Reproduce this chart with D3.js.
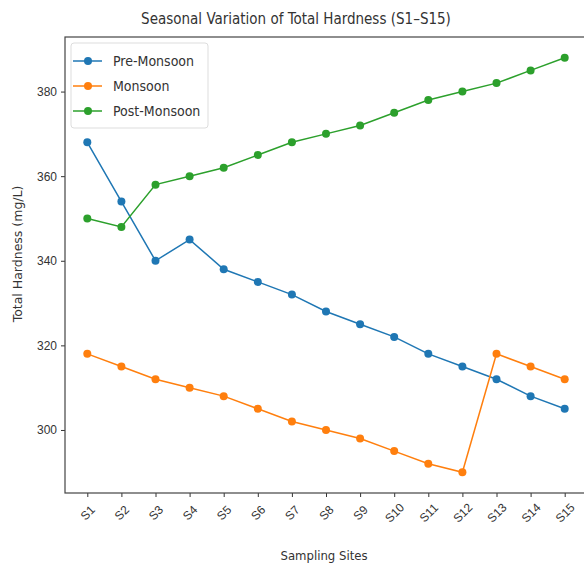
<!DOCTYPE html>
<html>
<head>
<meta charset="utf-8">
<script src="https://cdn.jsdelivr.net/npm/d3@7"></script>
<style>
  body { margin: 0; background: #fff; }
  svg { font-family: "DejaVu Sans Condensed", "DejaVu Sans", sans-serif; font-stretch: condensed; }
</style>
</head>
<body>
<div id="chart"></div>
<script>
let sites = ['S1', 'S2', 'S3', 'S4', 'S5', 'S6', 'S7', 'S8', 'S9', 'S10', 'S11', 'S12', 'S13', 'S14', 'S15'];
let preMonsoon = [368, 354, 340, 345, 338, 335, 332, 328, 325, 322, 318, 315, 312, 308, 305];
let monsoon = [318, 315, 312, 310, 308, 305, 302, 300, 298, 295, 292, 290, 318, 315, 312];
let postMonsoon = [350, 348, 358, 360, 362, 365, 368, 370, 372, 375, 378, 380, 382, 385, 388];
let seriesNames = ['Pre-Monsoon', 'Monsoon', 'Post-Monsoon'];
let yTicks = [300, 320, 340, 360, 380];

let width = 584;
let height = 567;
let plotLeft = 65, plotRight = 587, plotTop = 37, plotBottom = 493;
let colors = ['#1f77b4', '#ff7f0e', '#2ca02c'];

let svg = d3.select('#chart')
    .append('svg')
    .attr('width', width)
    .attr('height', height);

// matplotlib style 5% margins
let x = d3.scalePoint()
    .domain(sites)
    .range([plotLeft + 22.3, plotRight - 22.3]);

let allVals = preMonsoon.concat(monsoon, postMonsoon);
let yMin = d3.min(allVals), yMax = d3.max(allVals);
let pad = (yMax - yMin) * 0.05;
let y = d3.scaleLinear()
    .domain([yMin - pad, yMax + pad])
    .range([plotBottom, plotTop]);

// y axis
let yAxis = svg.append('g')
    .attr('transform', `translate(${plotLeft},0)`)
    .call(d3.axisLeft(y).tickValues(yTicks).tickSize(4).tickPadding(4));
yAxis.select('.domain').remove();
yAxis.selectAll('text').style('font-size', '12px').attr('fill', '#333');
yAxis.selectAll('line').attr('stroke', '#333');

// x axis
let xAxis = svg.append('g')
    .attr('transform', `translate(0,${plotBottom})`)
    .call(d3.axisBottom(x).tickSize(4).tickPadding(0));
xAxis.select('.domain').remove();
xAxis.selectAll('line').attr('stroke', '#333');
xAxis.selectAll('text')
    .style('font-size', '12px')
    .attr('fill', '#333')
    .attr('dy', null)
    .attr('y', 0)
    .attr('text-anchor', 'middle')
    .attr('dominant-baseline', 'central')
    .attr('transform', 'translate(0,20) rotate(-45)');

// frame
svg.append('rect')
    .attr('x', plotLeft)
    .attr('y', plotTop)
    .attr('width', plotRight - plotLeft)
    .attr('height', plotBottom - plotTop)
    .attr('fill', 'none')
    .attr('stroke', '#444')
    .attr('stroke-width', 1.2);

let line = d3.line()
    .x((d, i) => x(sites[i]))
    .y(d => y(d));

[preMonsoon, monsoon, postMonsoon].forEach((vals, k) => {
    svg.append('path')
        .datum(vals)
        .attr('d', line)
        .attr('fill', 'none')
        .attr('stroke', colors[k])
        .attr('stroke-width', 1.5);
    svg.append('g')
        .selectAll('circle')
        .data(vals)
        .enter()
        .append('circle')
        .attr('cx', (d, i) => x(sites[i]))
        .attr('cy', d => y(d))
        .attr('r', 4)
        .attr('fill', colors[k]);
});

// legend
let legend = svg.append('g').attr('transform', `translate(${plotLeft + 6},${plotTop + 6})`);
legend.append('rect')
    .attr('width', 137)
    .attr('height', 85)
    .attr('rx', 3)
    .attr('fill', 'white')
    .attr('fill-opacity', 0.8)
    .attr('stroke', '#ddd');
seriesNames.forEach((name, k) => {
    let gy = 18 + k * 25;
    legend.append('line')
        .attr('x1', 2).attr('x2', 31)
        .attr('y1', gy).attr('y2', gy)
        .attr('stroke', colors[k])
        .attr('stroke-width', 1.5);
    legend.append('circle')
        .attr('cx', 17).attr('cy', gy).attr('r', 4)
        .attr('fill', colors[k]);
    legend.append('text')
        .attr('x', 42).attr('y', gy)
        .attr('dominant-baseline', 'central')
        .style('font-size', '14px')
        .attr('fill', '#333')
        .text(name);
});

// title and labels
svg.append('text')
    .attr('x', 296)
    .attr('y', 19)
    .attr('text-anchor', 'middle')
    .attr('dominant-baseline', 'central')
    .style('font-size', '15px')
    .attr('fill', '#333')
    .text('Seasonal Variation of Total Hardness (S1–S15)');

svg.append('text')
    .attr('x', 324)
    .attr('y', 555)
    .attr('text-anchor', 'middle')
    .attr('dominant-baseline', 'central')
    .style('font-size', '13px')
    .attr('fill', '#333')
    .text('Sampling Sites');

svg.append('text')
    .attr('transform', 'translate(17,254) rotate(-90)')
    .attr('text-anchor', 'middle')
    .attr('dominant-baseline', 'central')
    .style('font-family', '"DejaVu Sans", sans-serif')
    .style('font-stretch', 'normal')
    .style('font-size', '12.5px')
    .attr('fill', '#333')
    .text('Total Hardness (mg/L)');
</script>
</body>
</html>
